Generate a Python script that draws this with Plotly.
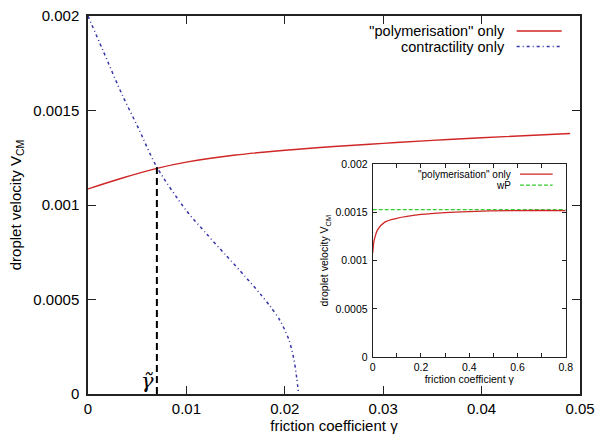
import plotly.graph_objects as go

# ---- data ----
poly_gamma = [0, 0.0035, 0.007, 0.010, 0.015, 0.020, 0.025, 0.030, 0.035, 0.040, 0.049]
poly_v = [0.001085, 0.001143, 0.001194, 0.001227, 0.0012645, 0.0012895, 0.0013095, 0.001326,
          0.001342, 0.001356, 0.0013785]

contr_gamma = [0, 0.0015, 0.0035, 0.005, 0.007, 0.010, 0.012, 0.014, 0.016,
               0.0175, 0.0185, 0.0195, 0.0204, 0.0209, 0.0212, 0.0214]
contr_v = [0.00200, 0.00182, 0.00158, 0.00142, 0.00120, 0.00097, 0.00085, 0.000735, 0.00062,
           0.00053, 0.000465, 0.00039, 0.00029, 0.00019, 0.00009, 0.0]

gamma_tilde = 0.007
v_tilde = 0.0012

inset_gamma = [0, 0.005, 0.01, 0.02, 0.05, 0.1, 0.2, 0.3, 0.4, 0.6, 0.8]
inset_v = [0.00108, 0.00120, 0.00125, 0.00132, 0.00140, 0.00144, 0.00148, 0.00150, 0.00151, 0.00152, 0.00152]
wP_gamma = [0, 0.8]
wP_v = [0.00153, 0.00153]

main_xticks = [0, 0.01, 0.02, 0.03, 0.04, 0.05]
main_xtext = ["0", "0.01", "0.02", "0.03", "0.04", "0.05"]
yticks = [0, 0.0005, 0.001, 0.0015, 0.002]
ytext = ["0", "0.0005", "0.001", "0.0015", "0.002"]
inset_xticks = [0, 0.2, 0.4, 0.6, 0.8]
inset_xtext = ["0", "0.2", "0.4", "0.6", "0.8"]

RED = "#d02626"
BLUE = "#3535a8"
GREEN = "#33cc33"
FONT = "Liberation Sans, Arial, sans-serif"
BLUE_DASH = "3px,3px,1px,3px"

fig = go.Figure()
fig.add_trace(go.Scatter(x=poly_gamma, y=poly_v, mode="lines", line=dict(color=RED, width=1.4, shape="spline"),
                         showlegend=False, xaxis="x", yaxis="y"))
fig.add_trace(go.Scatter(x=contr_gamma, y=contr_v, mode="lines",
                         line=dict(color=BLUE, width=1.5, dash=BLUE_DASH, shape="spline", smoothing=0.8),
                         showlegend=False, xaxis="x", yaxis="y"))
fig.add_trace(go.Scatter(x=[gamma_tilde, gamma_tilde], y=[0, v_tilde], mode="lines",
                         line=dict(color="black", width=2, dash="7px,4px"), showlegend=False,
                         xaxis="x", yaxis="y"))
fig.add_trace(go.Scatter(x=wP_gamma, y=wP_v, mode="lines", line=dict(color=GREEN, width=1.3, dash="4px,2px"),
                         showlegend=False, xaxis="x2", yaxis="y2"))
fig.add_trace(go.Scatter(x=inset_gamma, y=inset_v, mode="lines", line=dict(color=RED, width=1.3, shape="spline"),
                         showlegend=False, xaxis="x2", yaxis="y2"))

axis_common = dict(showgrid=False, zeroline=False, showline=True, linecolor="#222", mirror="ticks",
                   ticks="inside", tickcolor="#222", automargin=False)

fig.update_layout(
    width=605, height=441,
    margin=dict(l=88, r=25, t=16, b=47),
    paper_bgcolor="white", plot_bgcolor="white",
    font=dict(family=FONT, color="black"),
    xaxis=dict(**axis_common, domain=[0, 1], range=[0, 0.05], tickvals=main_xticks, ticktext=main_xtext,
               ticklen=8, linewidth=1.5, tickwidth=1.2, tickfont=dict(size=15),
               title=dict(text="friction coefficient γ", font=dict(size=15), standoff=4)),
    yaxis=dict(**axis_common, domain=[0, 1], range=[0, 0.002], tickvals=yticks, ticktext=ytext,
               ticklen=8, linewidth=1.5, tickwidth=1.2, tickfont=dict(size=15), ticklabelstandoff=4,
               title=dict(text="droplet velocity V<sub>CM</sub>", font=dict(size=15), standoff=8)),
    xaxis2=dict(**axis_common, domain=[0.5787, 0.9709], anchor="y2", range=[0, 0.8],
                tickvals=inset_xticks, ticktext=inset_xtext, ticklen=4, linewidth=1, tickwidth=1,
                tickfont=dict(size=10.5),
                minor=dict(ticks="inside", dtick=0.1, tick0=0, ticklen=4, tickcolor="#222"),
                title=dict(text="friction coefficient γ", font=dict(size=10.5), standoff=2)),
    yaxis2=dict(**axis_common, domain=[0.0979, 0.6075], anchor="x2", range=[0, 0.002],
                tickvals=yticks, ticktext=ytext, ticklen=4, linewidth=1, tickwidth=1,
                tickfont=dict(size=10.5), ticklabelstandoff=2,
                title=dict(text="droplet velocity V<sub>CM</sub>", font=dict(size=10.5), standoff=4)),
)

# tilde-gamma label
fig.add_annotation(x=0.0060, y=0.00007, xref="x", yref="y", text="<i>γ̃</i>", showarrow=False,
                   font=dict(family="DejaVu Serif, Liberation Serif, serif", size=21, color="black"))

# main legend (gnuplot style: text then sample)
legend_main = [("''polymerisation'' only", RED, "solid", 0.960),
               ("contractility only", BLUE, BLUE_DASH, 0.919)]
for txt, col, dash, yy in legend_main:
    fig.add_annotation(x=0.8516, y=yy, xref="paper", yref="paper", text=txt, showarrow=False,
                       xanchor="right", yanchor="middle", font=dict(size=14.5))
    fig.add_shape(type="line", xref="paper", yref="paper", x0=0.8713, x1=0.9628, y0=yy, y1=yy,
                  line=dict(color=col, width=1.5, dash=dash))

legend_inset = [('"polymerisation" only', RED, "solid", 0.5815),
                ("wP", GREEN, "4px,2px", 0.5525)]
for txt, col, dash, yy in legend_inset:
    fig.add_annotation(x=0.8644, y=yy, xref="paper", yref="paper", text=txt, showarrow=False,
                       xanchor="right", yanchor="middle", font=dict(size=10))
    fig.add_shape(type="line", xref="paper", yref="paper", x0=0.878, x1=0.9445, y0=yy, y1=yy,
                  line=dict(color=col, width=1.3, dash=dash))

# remove the browser's default 8px body margin so the figure sits at the page corner
fig.write_html("out.html", config={"displayModeBar": False},
               post_script="document.body.style.margin='0';")
